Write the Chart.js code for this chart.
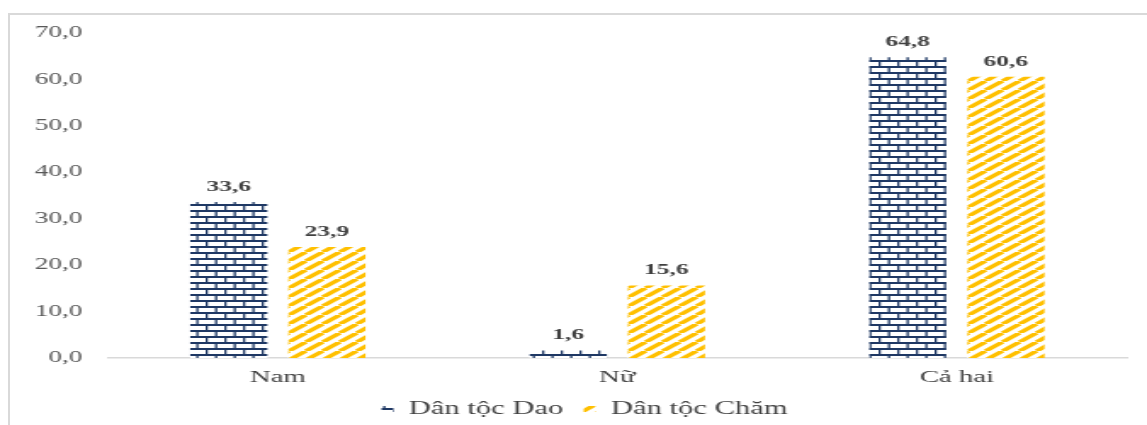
<!DOCTYPE html>
<html>
<head>
<meta charset="utf-8">
<script src="https://cdn.jsdelivr.net/npm/chart.js@4"></script>
<style>
    body { margin: 0; background: #fff; }
    .frame {
        position: absolute;
        left: 8px;
        top: 13px;
        width: 1139px;
        height: 412px;
        border-top: 2px solid #d9d9d9;
        border-left: 2px solid #d9d9d9;
    }
    #chart {
        position: absolute;
        left: 0;
        top: 0;
        width: 1147px;
        height: 425px;
    }
</style>
</head>
<body>
<div class="frame"></div>
<canvas id="chart" width="675" height="425" style="width:1147px;height:425px"></canvas>
<script>
// -------------------------------------------------------------------------- Document variables

let navy = '#1f3864'
let yellow = '#ffc000'
let grey = '#404040'
let serif = '"Liberation Serif", "Times New Roman", serif'

const categories = ['Nam', 'Nữ', 'Cả hai']
const daoValues = [33.6, 1.6, 64.8]
const chamValues = [23.9, 15.6, 60.6]
const seriesNames = ['Dân tộc Dao', 'Dân tộc Chăm']
const yTicks = [0, 10, 20, 30, 40, 50, 60, 70]

// the source picture is stretched sideways, so the canvas is too (1147 / 675)

const fmt = v => v.toFixed(1).replace('.', ',')

// -------------------------------------------------------------------------- Patterns

function brickPattern() {
    let c = document.createElement('canvas')
    c.width = 11
    c.height = 12
    let ctx = c.getContext('2d')
    ctx.fillStyle = '#fff'
    ctx.fillRect(0, 0, 11, 12)
    ctx.fillStyle = navy
    ctx.fillRect(0, 0, 11, 2)
    ctx.fillRect(0, 6, 11, 2)
    ctx.fillRect(0, 0, 1.3, 6)
    ctx.fillRect(5.5, 6, 1.3, 6)
    return ctx.createPattern(c, 'repeat')
}

function stripePattern() {
    let c = document.createElement('canvas')
    let w = 10
    let h = 9
    c.width = w
    c.height = h
    let ctx = c.getContext('2d')
    ctx.fillStyle = '#fff'
    ctx.fillRect(0, 0, w, h)
    ctx.strokeStyle = yellow
    ctx.lineWidth = 3.4
    for (let k = -1; k <= 1; k++) {
        ctx.beginPath()
        ctx.moveTo(k * w, h)
        ctx.lineTo(k * w + w, 0)
        ctx.stroke()
    }
    return ctx.createPattern(c, 'repeat')
}

const bricks = brickPattern()
const stripes = stripePattern()

// -------------------------------------------------------------------------- Plugins

const valueLabels = {
    id: 'valueLabels',
    afterDatasetsDraw(chart) {
        let ctx = chart.ctx
        ctx.save()
        ctx.font = 'bold 15px ' + serif
        ctx.fillStyle = grey
        ctx.textAlign = 'center'
        ctx.textBaseline = 'middle'
        chart.data.datasets.forEach((ds, i) => {
            chart.getDatasetMeta(i).data.forEach((bar, j) => {
                ctx.fillText(fmt(ds.data[j]), bar.x, bar.y - 15)
            })
        })
        ctx.restore()
    }
}

// fixed legend height, and nudge it right, so it sits where the original one does
const legendPlace = {
    id: 'legendPlace',
    beforeInit(chart) {
        const fit = chart.legend.fit
        chart.legend.fit = function () {
            fit.bind(chart.legend)()
            this.height = 37
        }
    },
    afterLayout(chart) {
        chart.legend.left += 10
        chart.legend.right += 10
    }
}

// -------------------------------------------------------------------------- Bar Chart Config

const dataBarChart = {
    labels: categories,
    datasets: [{
        label: seriesNames[0],
        data: daoValues,
        backgroundColor: bricks,
        borderWidth: 0
    }, {
        label: seriesNames[1],
        data: chamValues,
        backgroundColor: stripes,
        borderWidth: 0
    }]
}

const configBarChart = {
    type: 'bar',
    data: dataBarChart,
    plugins: [valueLabels, legendPlace],
    options: {
        responsive: false,
        devicePixelRatio: 1,
        animation: false,
        categoryPercentage: 0.578,
        barPercentage: 0.786,
        layout: {
            padding: { top: 33, left: 5, right: 12, bottom: 0 }
        },
        scales: {
            x: {
                grid: { display: false, drawTicks: false },
                border: { display: true, color: '#d9d9d9', width: 1.5 },
                ticks: {
                    padding: 9,
                    color: grey,
                    font: { family: serif, size: 17 }
                },
                afterFit: s => { s.height = 30 }
            },
            y: {
                min: 0,
                max: 70,
                grid: { display: false, drawTicks: false },
                border: { display: false },
                afterBuildTicks: s => { s.ticks = yTicks.map(v => ({ value: v })) },
                afterFit: s => { s.width = 58.6 },
                ticks: {
                    padding: 15,
                    color: '#595959',
                    font: { family: serif, size: 16 },
                    callback: v => fmt(v)
                }
            }
        },
        plugins: {
            legend: {
                position: 'bottom',
                labels: {
                    boxWidth: 7,
                    boxHeight: 6,
                    padding: 12,
                    color: grey,
                    font: { family: serif, size: 18 }
                }
            },
            tooltip: { enabled: false }
        }
    }
}

// -------------------------------------------------------------------------- Render Chart

let barChart = new Chart(
    document.getElementById('chart'),
    configBarChart
)
</script>
</body>
</html>
